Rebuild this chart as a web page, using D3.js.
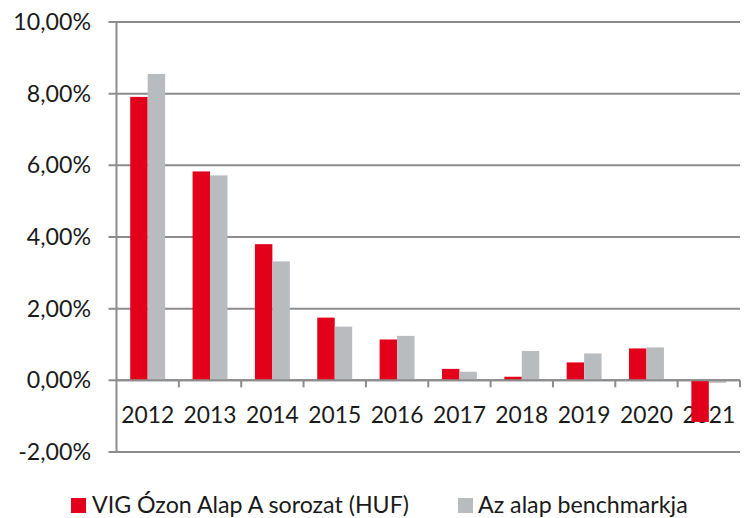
<!DOCTYPE html>
<html>
<head>
<meta charset="utf-8">
<script src="https://cdn.jsdelivr.net/npm/d3@7"></script>
<style>
  html, body { margin: 0; padding: 0; background: #fff; }
  svg { display: block; }
  text { font-family: Lato, "Liberation Sans", Arial, sans-serif; fill: #1a1a1a; }
</style>
</head>
<body>
<svg id="chart" width="745" height="518"></svg>
<script>
const years = ["2012","2013","2014","2015","2016","2017","2018","2019","2020","2021"];
const fundValues = [7.91, 5.83, 3.80, 1.75, 1.14, 0.32, 0.10, 0.50, 0.89, -1.16];
const benchmarkValues = [8.55, 5.72, 3.32, 1.50, 1.24, 0.24, 0.82, 0.75, 0.92, -0.07];
const yTicks = [-2, 0, 2, 4, 6, 8, 10];
const seriesNames = ["VIG Ózon Alap A sorozat (HUF)", "Az alap benchmarkja"];
const colors = ["#e2001a", "#b9bcbf"];

const svg = d3.select("#chart");
const plotLeft = 116.5, plotRight = 740, plotTop = 22, plotBottom = 452;

const x = d3.scaleBand().domain(years).range([plotLeft, plotRight]).padding(0);
const y = d3.scaleLinear().domain([-2, 10]).range([plotBottom, plotTop]);
const bw = x.bandwidth();
const barW = bw * 0.28;

const gridColor = "#8c8c8c";

// gridlines
svg.append("g").selectAll("line").data(yTicks).join("line")
  .attr("x1", plotLeft - 8).attr("x2", plotRight)
  .attr("y1", d => y(d)).attr("y2", d => y(d))
  .attr("stroke", gridColor).attr("stroke-width", 2);

// y axis line
svg.append("line").attr("x1", plotLeft).attr("x2", plotLeft)
  .attr("y1", y(10)).attr("y2", y(-2))
  .attr("stroke", gridColor).attr("stroke-width", 2);

// y tick labels
const fmt = d => d.toFixed(2).replace(".", ",") + "%";
svg.append("g").selectAll("text").data(yTicks).join("text")
  .attr("x", 91).attr("y", d => y(d))
  .attr("dy", "0.35em")
  .attr("text-anchor", "end")
  .style("font-size", "23.2px")
  .text(fmt);

// x ticks at band boundaries along zero line
const boundaries = years.slice(1).map(d => x(d)).concat([plotRight]);
svg.append("g").selectAll("line").data(boundaries).join("line")
  .attr("x1", d => d).attr("x2", d => d)
  .attr("y1", y(0)).attr("y2", y(0) + 7)
  .attr("stroke", gridColor).attr("stroke-width", 2);

// x labels
svg.append("g").selectAll("text").data(years).join("text")
  .attr("x", d => x(d) + bw / 2).attr("y", 423)
  .attr("text-anchor", "middle")
  .style("font-size", "22.8px")
  .text(d => d);

// bars
const series = [fundValues, benchmarkValues];
series.forEach((vals, si) => {
  svg.append("g").selectAll("rect").data(years).join("rect")
    .attr("x", (d) => x(d) + bw / 2 - barW + si * barW)
    .attr("width", barW)
    .attr("y", (d, i) => y(Math.max(0, vals[i])))
    .attr("height", (d, i) => Math.abs(y(vals[i]) - y(0)))
    .attr("fill", colors[si]);
});

// zero line redraw on top
svg.append("line").attr("x1", plotLeft).attr("x2", plotRight)
  .attr("y1", y(0)).attr("y2", y(0))
  .attr("stroke", gridColor).attr("stroke-width", 2);

// legend
const legendItems = [
  { name: seriesNames[0], color: colors[0], sx: 71, tx: 92 },
  { name: seriesNames[1], color: colors[1], sx: 458, tx: 478 }
];
const lg = svg.append("g");
legendItems.forEach(it => {
  lg.append("rect").attr("x", it.sx).attr("y", 498).attr("width", 15).attr("height", 15).attr("fill", it.color);
  lg.append("text").attr("x", it.tx).attr("y", 513)
    .style("font-size", "23.2px")
    .text(it.name);
});
</script>
</body>
</html>
